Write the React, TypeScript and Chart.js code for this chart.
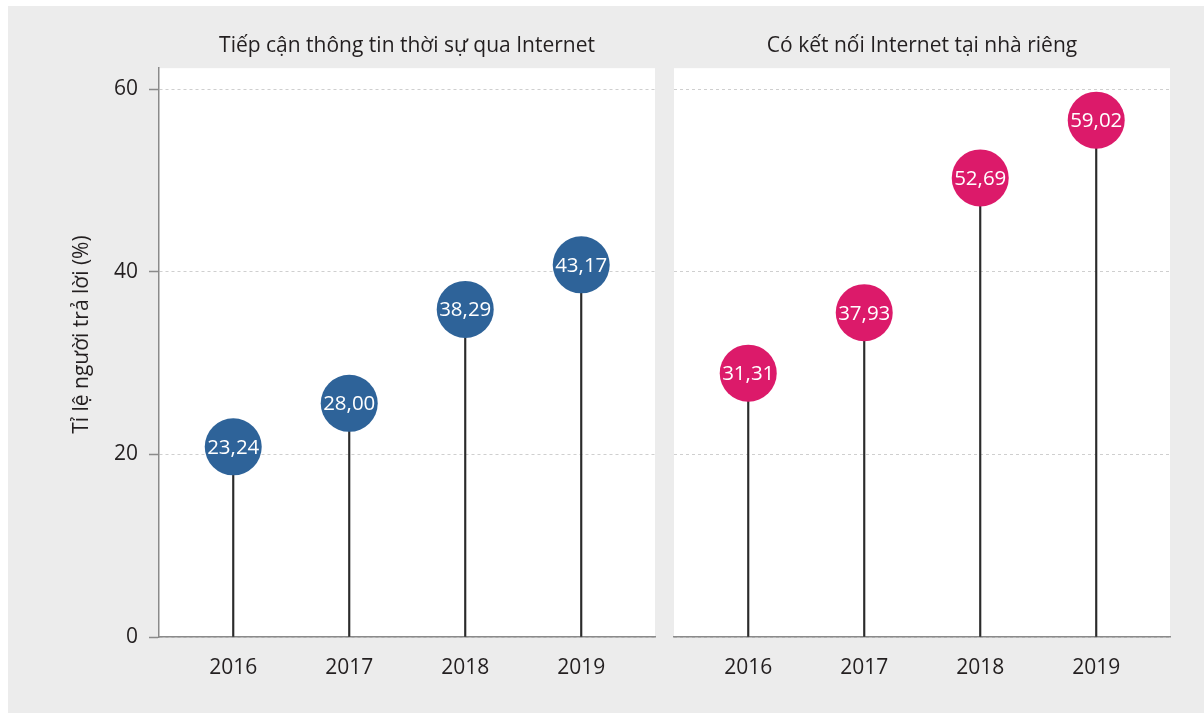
import React, { useEffect, useRef } from 'react';
import { Chart, registerables } from 'chart.js';

Chart.register(...registerables);

const years = [2016, 2017, 2018, 2019];
const newsValues = [23.24, 28.0, 38.29, 43.17];
const homeValues = [31.31, 37.93, 52.69, 59.02];
const yTickValues = [0, 20, 40, 60];
const panelTitles = ['Tiếp cận thông tin thời sự qua Internet', 'Có kết nối Internet tại nhà riêng'];
const yAxisTitle = 'Tỉ lệ người trả lời (%)';

const FONT = '"Open Sans", "Noto Sans", sans-serif';
const TEXT = '#231f20';
const AXIS = '#8a8a8a';
const GRID = '#cfcfcf';
const BLUE = '#2e6399';
const PINK = '#dc1a6a';
const RADIUS = 28.5;
const CIRCLE_SHIFT = 22;

const panelBg = {
  id: 'panelBg',
  beforeDraw(chart: any) {
    const { ctx, chartArea } = chart;
    ctx.save();
    ctx.fillStyle = '#ffffff';
    ctx.fillRect(chartArea.left, chartArea.top, chartArea.right - chartArea.left, chartArea.bottom - chartArea.top);
    ctx.restore();
  },
};

const yTitlePlugin = {
  id: 'yTitlePlugin',
  afterDraw(chart: any, _args: any, opts: any) {
    if (!opts || !opts.text) return;
    const { ctx, chartArea } = chart;
    ctx.save();
    ctx.translate(chart.scales.y.left + 82, (chartArea.top + chartArea.bottom) / 2 - 18);
    ctx.rotate(-Math.PI / 2);
    ctx.fillStyle = TEXT;
    ctx.font = `21px ${FONT}`;
    ctx.textAlign = 'center';
    ctx.textBaseline = 'middle';
    ctx.fillText(opts.text, 0, 0);
    ctx.restore();
  },
};

const bubbleLabels = {
  id: 'bubbleLabels',
  beforeDatasetDraw(chart: any, args: any) {
    if (args.index !== 1) return;
    chart.ctx.save();
    chart.ctx.translate(0, CIRCLE_SHIFT);
  },
  afterDatasetDraw(chart: any, args: any) {
    if (args.index !== 1) return;
    const ctx = chart.ctx;
    const meta = args.meta;
    const ds = chart.data.datasets[1];
    ctx.fillStyle = '#ffffff';
    ctx.font = `20.5px ${FONT}`;
    ctx.textAlign = 'center';
    ctx.textBaseline = 'middle';
    meta.data.forEach((el: any, i: number) => {
      const v = ds.data[i].y as number;
      ctx.fillText(v.toFixed(2).replace('.', ','), el.x, el.y + 1);
    });
    ctx.restore();
  },
};

function makeConfig(values: number[], color: string, title: string, showY: boolean, padLeft: number, padRight: number): any {
  const pts = years.map((x, i) => ({ x, y: values[i] }));
  return {
    type: 'bar',
    data: {
      datasets: [
        {
          type: 'bar',
          data: pts,
          backgroundColor: '#2b2b2b',
          barThickness: 1.5,
          order: 1,
        },
        {
          type: 'line',
          data: pts,
          showLine: false,
          pointRadius: RADIUS,
          pointHoverRadius: RADIUS,
          pointBackgroundColor: color,
          pointBorderWidth: 0,
          pointBorderColor: color,
          clip: false,
          order: 0,
        },
      ],
    },
    options: {
      responsive: false,
      animation: false,
      events: [],
      layout: { autoPadding: false, padding: { left: padLeft, right: padRight, top: 0, bottom: 0 } },
      plugins: {
        legend: { display: false },
        tooltip: { enabled: false },
        yTitlePlugin: { text: showY ? yAxisTitle : '' },
        title: {
          display: true,
          text: title,
          fullSize: false,
          color: TEXT,
          font: { family: FONT, size: 21, weight: 'normal' },
          padding: { top: 33, bottom: 10 },
        },
      },
      scales: {
        x: {
          type: 'linear',
          offset: false,
          min: 2015.36,
          max: 2019.636,
          afterBuildTicks: (scale: any) => {
            scale.ticks = years.map((v) => ({ value: v }));
          },
          afterFit: (scale: any) => {
            scale.height = 76;
          },
          grid: { drawOnChartArea: false, drawTicks: false, offset: false },
          border: { display: true, color: AXIS, width: 1.5 },
          ticks: {
            padding: 18,
            color: TEXT,
            font: { family: FONT, size: 21 },
            callback: (v: any) => String(v),
          },
        },
        y: {
          type: 'linear',
          min: 0,
          max: 62.3,
          afterBuildTicks: (scale: any) => {
            scale.ticks = yTickValues.map((v) => ({ value: v }));
          },
          afterFit: (scale: any) => {
            scale.width = showY ? 159 : 0;
          },
          grid: {
            color: GRID,
            lineWidth: 1,
            drawTicks: showY,
            tickLength: 10,
            tickColor: AXIS,
            tickWidth: 1.5,
          },
          border: { display: showY, color: AXIS, width: 1.5, dash: [3, 3] },
          ticks: {
            display: showY,
            padding: 11,
            color: TEXT,
            font: { family: FONT, size: 21 },
          },
        },
      },
    },
    plugins: [panelBg, bubbleLabels, yTitlePlugin],
  };
}

function Panel(props: { values: number[]; color: string; title: string; showY: boolean; left: number; width: number; padLeft: number; padRight: number }) {
  const ref = useRef<HTMLCanvasElement>(null);
  useEffect(() => {
    if (!ref.current) return;
    const chart = new Chart(ref.current, makeConfig(props.values, props.color, props.title, props.showY, props.padLeft, props.padRight));
    return () => chart.destroy();
  }, []);
  return (
    <canvas
      ref={ref}
      width={props.width}
      height={713}
      style={{ position: 'absolute', left: props.left, top: 0, width: props.width, height: 713 }}
    />
  );
}

export default function App() {
  return (
    <div style={{ position: 'fixed', left: 0, top: 0, width: 1204, height: 713, overflow: 'hidden', background: '#ffffff' }}>
      <div style={{ position: 'absolute', left: 8, top: 6, right: 0, bottom: 0, background: '#ececec' }} />
      <Panel values={newsValues} color={BLUE} title={panelTitles[0]} showY={true} left={0} width={660} padLeft={0} padRight={5} />
      <Panel values={homeValues} color={PINK} title={panelTitles[1]} showY={false} left={655} width={549} padLeft={19} padRight={34} />
    </div>
  );
}
